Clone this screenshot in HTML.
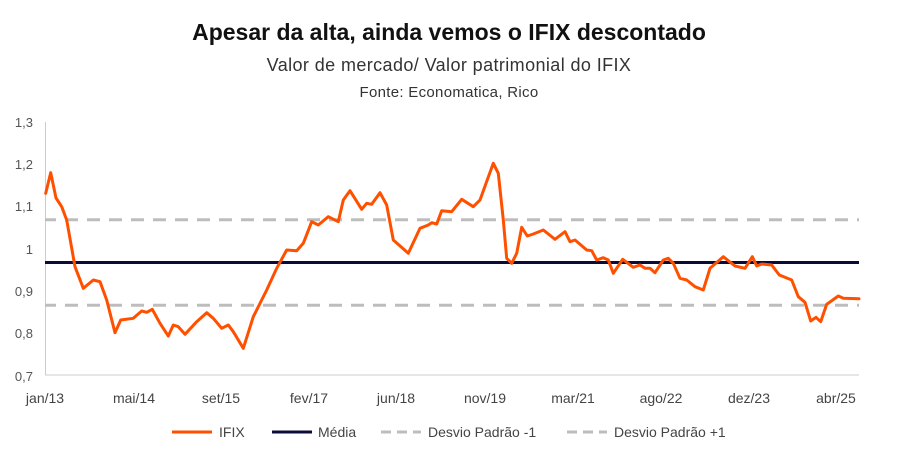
<!DOCTYPE html>
<html><head><meta charset="utf-8"><style>
html,body{margin:0;padding:0;background:#fff;}
svg{display:block;font-family:"Liberation Sans",sans-serif;}
</style></head><body>
<svg width="898" height="455" viewBox="0 0 898 455" xmlns="http://www.w3.org/2000/svg">
<text x="449" y="40" text-anchor="middle" font-size="23" font-weight="bold" fill="#111">Apesar da alta, ainda vemos o IFIX descontado</text>
<text x="449" y="71" text-anchor="middle" font-size="18" fill="#333" letter-spacing="0.4">Valor de mercado/ Valor patrimonial do IFIX</text>
<text x="449" y="97" text-anchor="middle" font-size="15" fill="#333" letter-spacing="0.3">Fonte: Economatica, Rico</text>
<g font-size="13" fill="#555" text-anchor="end">
<text x="33" y="127">1,3</text><text x="33" y="169">1,2</text><text x="33" y="211">1,1</text>
<text x="33" y="254">1</text><text x="33" y="296">0,9</text><text x="33" y="338">0,8</text><text x="33" y="381">0,7</text>
</g>
<line x1="45.5" y1="122" x2="45.5" y2="375" stroke="#ccc" stroke-width="1"/>
<line x1="45" y1="375" x2="859" y2="375" stroke="#ccc" stroke-width="1"/>
<g font-size="14" fill="#444" text-anchor="middle">
<text x="45" y="403">jan/13</text><text x="134" y="403">mai/14</text><text x="221" y="403">set/15</text>
<text x="309" y="403">fev/17</text><text x="396" y="403">jun/18</text><text x="485" y="403">nov/19</text>
<text x="573" y="403">mar/21</text><text x="661" y="403">ago/22</text><text x="749" y="403">dez/23</text><text x="836" y="403">abr/25</text>
</g>
<line x1="45" y1="219.7" x2="859" y2="219.7" stroke="#bdbdbd" stroke-width="3" stroke-dasharray="13,9" stroke-dashoffset="-20"/>
<line x1="45" y1="305.3" x2="859" y2="305.3" stroke="#bdbdbd" stroke-width="3" stroke-dasharray="13,9" stroke-dashoffset="-20"/>
<line x1="45" y1="262.5" x2="859" y2="262.5" stroke="#0b0b3b" stroke-width="3"/>
<polyline fill="none" stroke="#ff5000" stroke-width="3" stroke-linejoin="round" stroke-linecap="round" points="45.7,193.3 50.7,172.7 56,198 61.7,206.7 66.7,220 75,266.7 83.3,288.3 93.3,280 100,281.7 106.7,300 115,332.7 120.7,320 133.3,318.3 141.7,311 146.7,312.3 152.3,309.3 160,323.3 168.3,336 173.3,325 178.3,326.7 185,334.3 196.7,321.7 206.7,312.7 213.3,318.3 221.7,328.3 228.3,325 233.3,331.7 243.3,348.3 253.3,316.7 266.7,290 276.7,268.3 286.7,250 296.7,250.7 303.3,243.3 311.7,221.7 318.3,225 328.3,216.7 338.3,221.7 343.3,200 350,190.7 361.7,209.3 366.7,203.3 371.7,204.3 380,192.7 386.7,205 393.3,240 408.3,253.3 420,228.3 428.3,225 431.7,222.7 436.7,224 441.7,210.7 451.7,211.7 461.7,199.3 473.3,206.7 480,200 493.3,163.3 498.3,173.3 503.3,220 506.7,258.3 511.7,263.3 516.7,253.3 521.7,227.3 527.3,236 533.3,234 543.3,230 555,239.3 565,231.7 570,241.7 575,240 586.7,250 591.7,250.7 596.7,260 603.3,257.7 608.3,260 613.3,273.3 622.7,259.3 633.3,267.3 640,265 645,268.3 650,268.3 655,272.7 663.3,260 668.3,258.3 673.3,263.3 680,278.3 686.7,280 695,286.7 703.3,290 710,268.3 723.3,256.7 735,266 745,268.3 752.3,256.7 756.7,266 761.7,264 771.7,265 779.3,275 791.7,280 798.3,296.7 805,302.3 810.7,321 816,317.3 820.7,321.7 826.7,304.3 838.3,296 843.3,298.3 859,298.7"/>
<g font-size="14" fill="#444">
<line x1="172" y1="432" x2="212" y2="432" stroke="#ff5000" stroke-width="3"/>
<text x="219" y="437">IFIX</text>
<line x1="272" y1="432" x2="312" y2="432" stroke="#0b0b3b" stroke-width="3"/>
<text x="318" y="437">Média</text>
<line x1="381" y1="432" x2="421" y2="432" stroke="#bdbdbd" stroke-width="3" stroke-dasharray="10,6"/>
<text x="428" y="437">Desvio Padrão -1</text>
<line x1="567" y1="432" x2="607" y2="432" stroke="#bdbdbd" stroke-width="3" stroke-dasharray="10,6"/>
<text x="614" y="437">Desvio Padrão +1</text>
</g>
</svg>
</body></html>
